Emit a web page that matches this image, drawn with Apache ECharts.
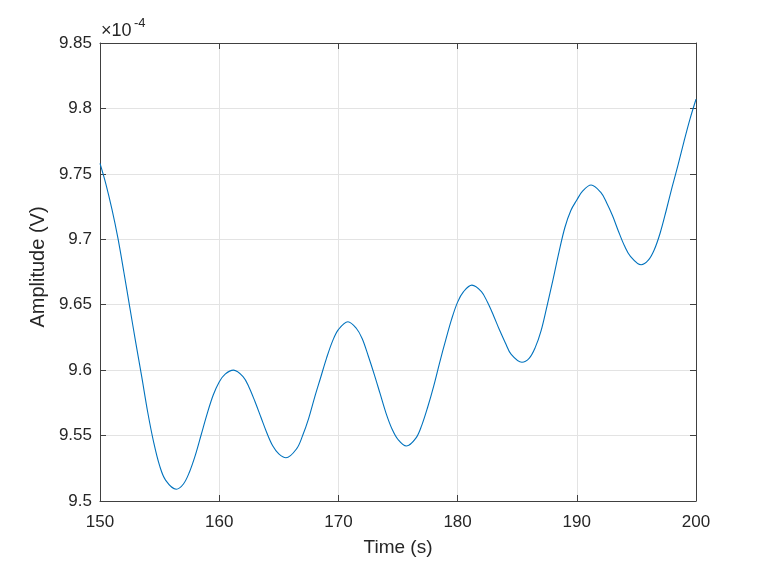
<!DOCTYPE html>
<html>
<head>
<meta charset="utf-8">
<script src="https://cdn.jsdelivr.net/npm/echarts@6/dist/echarts.min.js"></script>
<style>html,body{margin:0;padding:0;background:#fff}#c{width:769px;height:563px}</style>
</head>
<body>
<div id="c"></div>
<script>
// Time in seconds (about every 0.5 s, with the turning points read directly)
const times = [150.0,150.5,151.0,151.5,152.0,152.5,153.0,153.5,154.0,154.5,155.0,155.5,156.4,157.0,157.5,158.0,158.5,159.0,159.5,160.0,160.5,161.2,162.0,162.5,163.0,163.5,164.0,164.5,165.0,165.6,166.5,167.0,167.5,168.0,168.5,169.0,169.5,170.0,170.8,171.5,172.0,172.5,173.0,173.5,174.0,174.5,175.0,175.7,176.5,177.0,177.5,178.0,178.5,179.0,179.5,180.0,180.5,181.2,182.0,182.5,183.0,183.5,184.0,184.5,185.4,186.0,186.5,187.0,187.5,188.0,188.5,189.0,189.5,190.0,190.5,191.2,192.0,192.5,193.0,193.5,194.0,194.5,195.4,196.0,196.5,197.0,197.5,198.0,198.5,199.0,199.5,200.0];
// Amplitude in units of 1e-4 V
const amplitude = [9.758,9.742,9.723,9.701,9.675,9.648,9.621,9.595,9.568,9.545,9.527,9.516,9.509,9.513,9.522,9.535,9.551,9.567,9.581,9.591,9.597,9.600,9.595,9.587,9.576,9.564,9.552,9.542,9.536,9.533,9.540,9.550,9.563,9.579,9.594,9.609,9.622,9.631,9.637,9.632,9.624,9.611,9.597,9.582,9.567,9.555,9.547,9.542,9.548,9.558,9.572,9.588,9.606,9.623,9.639,9.652,9.660,9.665,9.660,9.652,9.642,9.631,9.621,9.612,9.606,9.609,9.617,9.630,9.649,9.669,9.690,9.709,9.722,9.730,9.737,9.7415,9.736,9.728,9.718,9.706,9.695,9.687,9.6805,9.684,9.692,9.705,9.722,9.740,9.757,9.775,9.792,9.807];
const xTicks = [150,160,170,180,190,200];
const yTicks = [9.5,9.55,9.6,9.65,9.7,9.75,9.8,9.85];
const exponentBase = '×10';
const exponentPower = '-4';

const FONT = 'Liberation Sans, Arial, Helvetica, sans-serif';
const AX = '#404040';
const TXT = '#262626';
const chart = echarts.init(document.getElementById('c'), null, {renderer:'canvas'});
const fmtY = v => String(+(+v).toFixed(2));
const baseX = {
  type:'value', min:xTicks[0], max:xTicks[xTicks.length-1], interval:10,
  axisLine:{show:true,lineStyle:{color:AX,width:1}},
  axisTick:{show:true,inside:true,length:6,lineStyle:{color:AX}},
  splitLine:{show:false}
};
const baseY = {
  type:'value', min:yTicks[0], max:yTicks[yTicks.length-1], interval:0.05,
  axisLine:{show:true,lineStyle:{color:AX,width:1}},
  axisTick:{show:true,inside:true,length:6,lineStyle:{color:AX}},
  splitLine:{show:false}
};
chart.setOption({
  animation:false,
  backgroundColor:'#fff',
  graphic:[
    {type:'text', left:101, top:22, style:{text:exponentBase, font:'18px '+FONT, fill:TXT}},
    {type:'text', left:134, top:17, style:{text:exponentPower, font:'13px '+FONT, fill:TXT}}
  ],
  grid:{left:100,right:73,top:43,bottom:62,containLabel:false},
  xAxis:[
    Object.assign({}, baseX, {
      position:'bottom',
      name:'Time (s)', nameLocation:'middle', nameGap:37,
      nameTextStyle:{fontFamily:FONT,fontSize:19,color:TXT},
      axisLabel:{show:true,margin:13,fontFamily:FONT,fontSize:17,color:TXT},
      splitLine:{show:true,lineStyle:{color:'#e3e3e3',width:1}}
    }),
    Object.assign({}, baseX, {position:'top', axisLabel:{show:false}})
  ],
  yAxis:[
    Object.assign({}, baseY, {
      position:'left',
      name:'Amplitude (V)', nameLocation:'middle', nameGap:45,
      nameTextStyle:{fontFamily:FONT,fontSize:20,color:TXT,padding:[0,0,0,10]},
      axisLabel:{show:true,margin:8,fontFamily:FONT,fontSize:17,color:TXT,formatter:fmtY},
      splitLine:{show:true,lineStyle:{color:'#e3e3e3',width:1}}
    }),
    Object.assign({}, baseY, {position:'right', axisLabel:{show:false}})
  ],
  series:[{
    type:'line', xAxisIndex:0, yAxisIndex:0,
    data: times.map((t,i)=>[t, amplitude[i]]),
    showSymbol:false, smooth:0.35,
    lineStyle:{color:'#0072BD', width:1.1},
    clip:true
  }]
});
</script>
</body>
</html>
